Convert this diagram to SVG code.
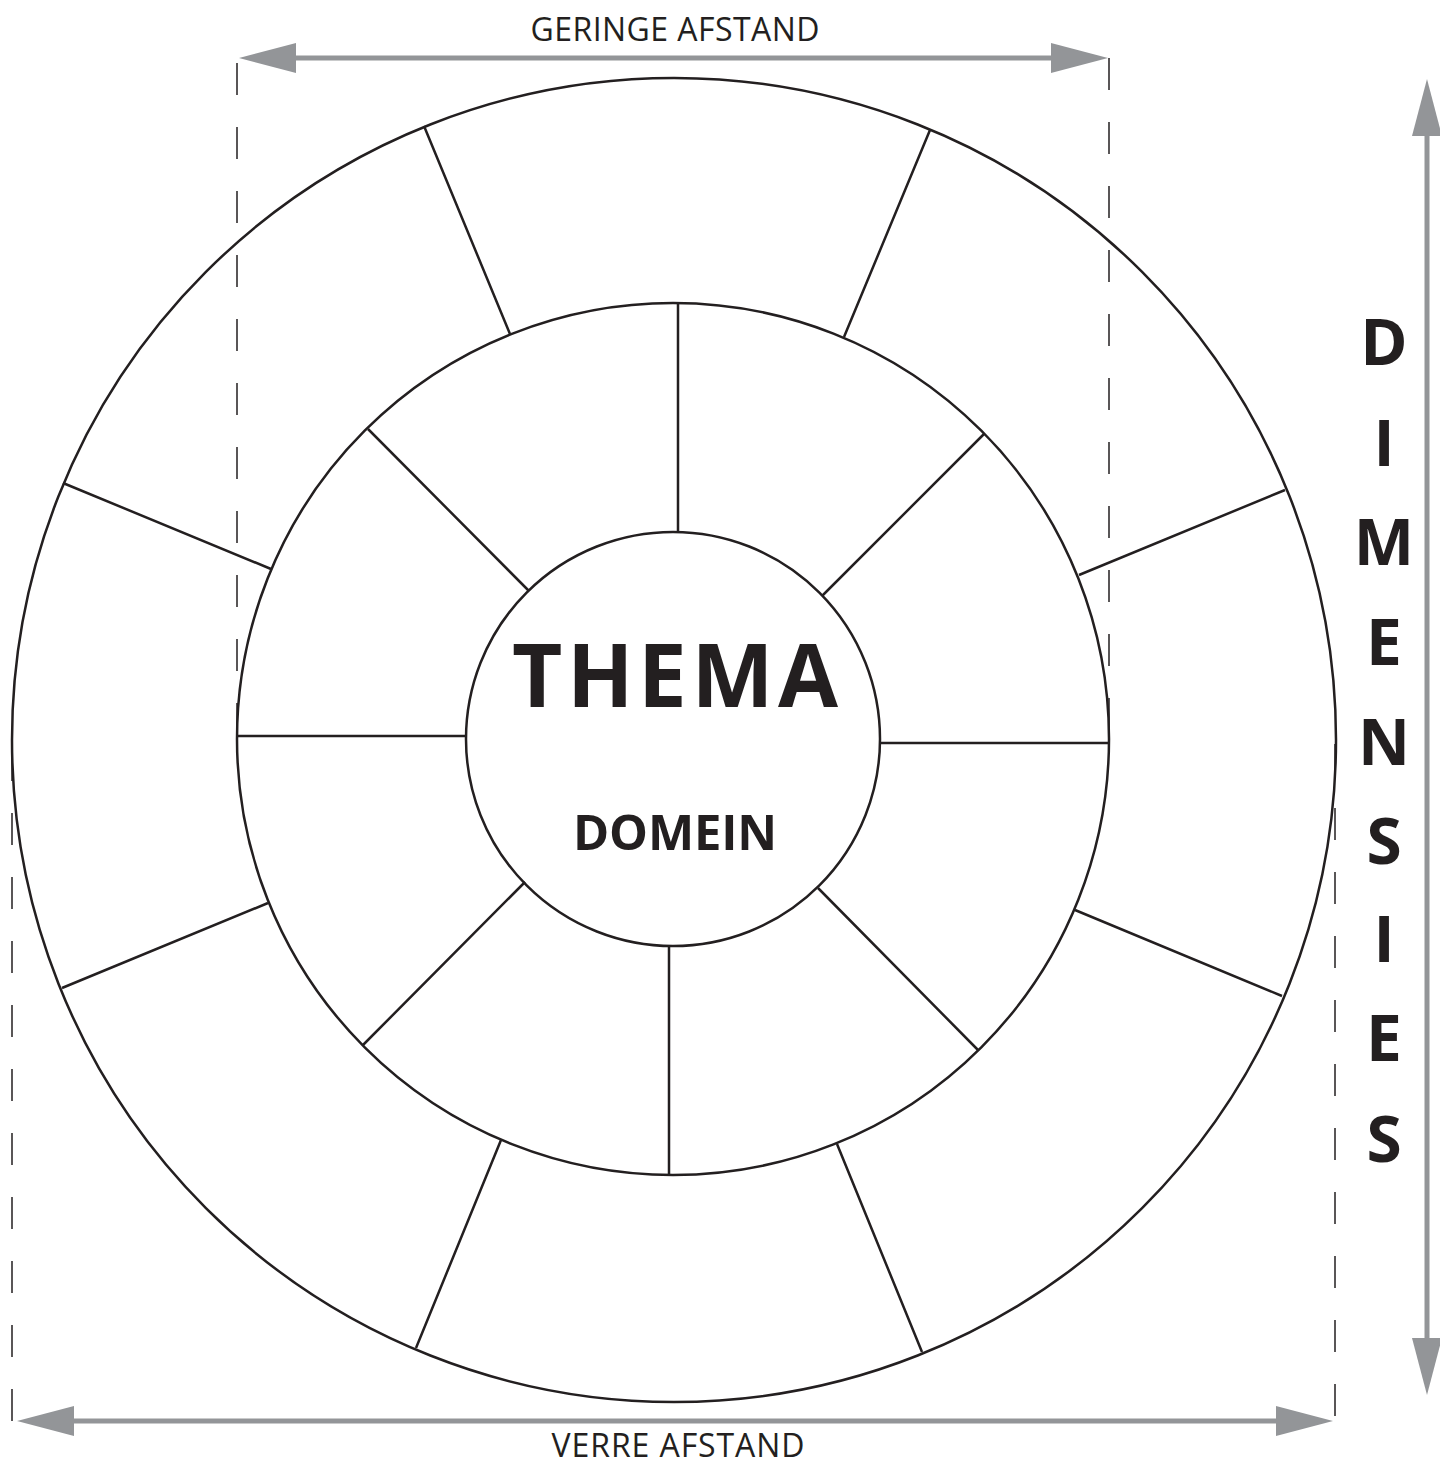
<svg xmlns="http://www.w3.org/2000/svg" width="1440" height="1467" viewBox="0 0 1440 1467">
<style>
.ln{fill:none;stroke:#231f20;stroke-width:2.5}
.dash{fill:none;stroke:#231f20;stroke-width:1.5;stroke-dasharray:32 32}
.dim{fill:none;stroke:#939598;stroke-width:5;marker-start:url(#ah);marker-end:url(#ah)}
.t{font-family:"Open Sans","Liberation Sans",sans-serif;fill:#231f20;text-anchor:middle}
.b{font-weight:bold}
</style>
<defs>
<marker id="ah" viewBox="0 0 57 30" refX="37" refY="15" markerWidth="57" markerHeight="30" markerUnits="userSpaceOnUse" orient="auto-start-reverse">
<path d="M0 0 L57 15 L0 30 Z" fill="#939598"/>
</marker>
</defs>
<rect width="1440" height="1467" fill="#fff"/>
<g id="guides">
<path class="dash" d="M237 63 V740"/>
<path class="dash" d="M1109 58 V740"/>
<path class="dash" d="M12 1421 V749"/>
<path class="dash" d="M1335 1416 V744"/>
</g>
<g id="connectors">
<path class="dim" d="M259 58 H1088"/>
<path class="dim" d="M37 1421 H1313"/>
<path class="dim" d="M1427 99 V1375"/>
</g>
<g id="outer-ring">
<circle class="ln" cx="674" cy="740" r="662"/>
<path class="ln" d="M424 126 L510 334 M930 130 L844 337 M1285 490 L1079 575 M1282 996 L1075 910 M922 1352 L837 1144 M416 1348 L501 1140 M62 988 L268 903 M63 483 L271 569"/>
</g>
<g id="middle-ring">
<circle class="ln" cx="673" cy="739" r="436"/>
<path class="ln" d="M678 303 V532 M880 743 H1109 M669 946 V1175 M238 736 H466 M368 429 L529 591 M984 434 L822 596 M978 1050 L818 888 M363 1045 L525 882"/>
</g>
<g id="thema">
<circle class="ln" cx="673" cy="739" r="207" fill="#fff"/>
<text class="t b" x="675" y="707" font-size="87" textLength="326" lengthAdjust="spacing">THEMA</text>
<text class="t b" x="675" y="850" font-size="49" textLength="204" lengthAdjust="spacing">DOMEIN</text>
</g>
<g id="labels">
<text class="t" x="675" y="41" font-size="32" textLength="289" lengthAdjust="spacing">GERINGE AFSTAND</text>
<text class="t" x="678" y="1457" font-size="32" textLength="253" lengthAdjust="spacing">VERRE AFSTAND</text>
<g class="t b" font-size="64">
<text x="1384" y="365">D</text>
<text x="1384" y="466">I</text>
<text x="1384" y="565">M</text>
<text x="1384" y="665">E</text>
<text x="1384" y="765">N</text>
<text x="1384" y="864">S</text>
<text x="1384" y="962">I</text>
<text x="1384" y="1061">E</text>
<text x="1384" y="1162">S</text>
</g>
</g>
</svg>
